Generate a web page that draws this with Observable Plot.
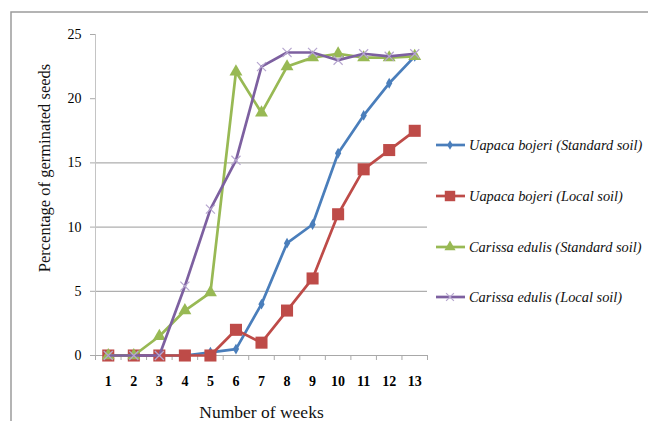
<!DOCTYPE html>
<html>
<head>
<meta charset="utf-8">
<script src="https://cdn.jsdelivr.net/npm/d3@7"></script>
<script src="https://cdn.jsdelivr.net/npm/@observablehq/plot@0.6"></script>
<style>
  html, body { margin: 0; padding: 0; background: #fff; }
  svg { display: block; }
</style>
</head>
<body>
<div id="chart"></div>
<script>
const weeks = [1,2,3,4,5,6,7,8,9,10,11,12,13];
const uapacaStandard = [0,0,0,0,0.25,0.5,4,8.75,10.2,15.75,18.7,21.2,23.3];
const uapacaLocal = [0,0,0,0,0,2,1,3.5,6,11,14.5,16,17.5];
const carissaStandard = [0,0,1.5,3.5,4.9,22.1,18.9,22.5,23.2,23.5,23.2,23.2,23.3];
const carissaLocal = [0,0,0,5.4,11.4,15.2,22.5,23.6,23.6,23,23.5,23.3,23.5];
const seriesNames = [
  "Uapaca bojeri (Standard soil)",
  "Uapaca bojeri (Local soil)",
  "Carissa edulis (Standard soil)",
  "Carissa edulis (Local soil)"
];
const yTicks = [0,5,10,15,20,25];
const gridValues = [5,10,15];
const xBoundaries = [0.5,1.5,2.5,3.5,4.5,5.5,6.5,7.5,8.5,9.5,10.5,11.5,12.5,13.5];

const SERIF = "'Liberation Serif', 'Times New Roman', 'DejaVu Serif', serif";

const styles = [
  {color: "#4A7EBB", symbol: "diamond", r: 3.3, fill: "#4A7EBB", stroke: "none"},
  {color: "#BE4B48", symbol: "square", r: 6.8, fill: "#BE4B48", stroke: "none"},
  {color: "#98B954", symbol: "triangle", r: 4.8, fill: "#98B954", stroke: "none"},
  {color: "#7D60A0", symbol: "times", r: 4.2, fill: "none", stroke: "#B6A6CF"}
];
const allValues = [uapacaStandard, uapacaLocal, carissaStandard, carissaLocal];
const series = allValues.map((vals, i) => weeks.map((w, j) => ({week: w, value: vals[j], name: seriesNames[i]})));

const marks = [
  Plot.ruleY(gridValues, {stroke: "#9a9a9a", strokeWidth: 1}),
  Plot.ruleX([0.5], {stroke: "#c4c4c4", strokeWidth: 1}),
  Plot.ruleY([0], {stroke: "#a8a8a8", strokeWidth: 1}),
  Plot.axisY({ticks: yTicks, tickSize: 5, tickPadding: 9, fontSize: 14, fontFamily: SERIF, stroke: "#aaa", label: null, tickFormat: d => String(d)}),
  Plot.axisX({ticks: xBoundaries, tickSize: 5, tickFormat: () => "", stroke: "#aaa", label: null}),
  Plot.axisX({ticks: weeks, tickSize: 0, tickPadding: 21, fontSize: 14, fontFamily: SERIF, fontWeight: "bold", label: null, tickFormat: d => String(d)}),
  Plot.text(["Number of weeks"], {frameAnchor: "bottom", dy: 62, fontSize: 17.5, fontFamily: SERIF, fill: "#111"}),
  Plot.text(["Percentage of germinated seeds"], {frameAnchor: "left", textAnchor: "middle", lineAnchor: "middle", dx: -51, dy: -27, rotate: -90, fontSize: 16.5, fontFamily: SERIF, fill: "#111"})
];
series.forEach((data, i) => {
  const s = styles[i];
  marks.push(Plot.line(data, {x: "week", y: "value", stroke: s.color, strokeWidth: 2.7}));
  marks.push(Plot.dot(data, {x: "week", y: "value", symbol: () => s.symbol, r: s.r, fill: s.fill, stroke: s.stroke, strokeWidth: 1.2}));
});

const chart = Plot.plot({
  width: 648,
  height: 421,
  marginLeft: 95,
  marginRight: 221,
  marginTop: 34,
  marginBottom: 66,
  style: {background: "#fff", overflow: "hidden", fontFamily: SERIF},
  x: {type: "linear", domain: [0.5, 13.5], axis: null},
  y: {domain: [0, 25], axis: null},
  symbol: {type: "identity"},
  marks
});
document.getElementById("chart").appendChild(chart);

// Frame border and legend
const svg = d3.select(chart);
svg.append("path")
  .attr("d", "M11,421 L11,12 L648,12")
  .attr("fill", "none").attr("stroke", "#9c9c9c").attr("stroke-width", 1.5);

const legendY = [145, 196, 247, 297];
const symMap = {diamond: d3.symbolDiamond, square: d3.symbolSquare, triangle: d3.symbolTriangle, times: d3.symbolTimes};
seriesNames.forEach((name, i) => {
  const s = styles[i];
  const g = svg.append("g").attr("transform", `translate(0,${legendY[i]})`);
  g.append("line").attr("x1", 436).attr("x2", 465).attr("y1", 0).attr("y2", 0)
    .attr("stroke", s.color).attr("stroke-width", 2.7);
  const size = s.r * s.r * Math.PI * (i === 0 ? 0.8 : 0.75);
  g.append("path").attr("transform", "translate(450,0)")
    .attr("d", d3.symbol(symMap[s.symbol], size)())
    .attr("fill", s.fill).attr("stroke", s.stroke).attr("stroke-width", 1.2);
  g.append("text").attr("x", 469).attr("y", 0).attr("dy", "0.35em")
    .attr("text-anchor", "start")
    .style("font-family", SERIF).style("font-style", "italic")
    .style("font-size", "14.4px").attr("fill", "#111").text(name);
});
</script>
</body>
</html>
